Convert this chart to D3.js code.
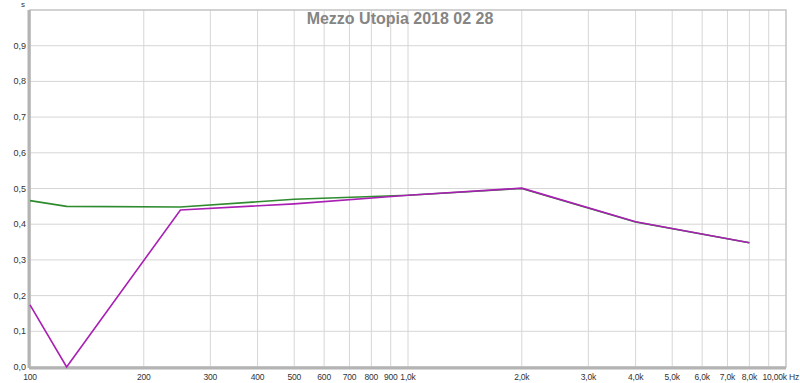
<!DOCTYPE html>
<html>
<head>
<meta charset="utf-8">
<script src="https://cdn.jsdelivr.net/npm/d3@7"></script>
<style>
  body { margin: 0; background: #fff; }
  svg { display: block; font-family: "Liberation Sans", Arial, sans-serif; }
</style>
</head>
<body>
<div id="chart"></div>
<script>
const title = 'Mezzo Utopia 2018 02 28';
const freqs = [100, 125, 250, 500, 1000, 2000, 4000, 8000];
const greenVals = [0.466, 0.450, 0.448, 0.470, 0.481, 0.500, 0.406, 0.348];
const magentaVals = [0.174, 0.0, 0.440, 0.457, 0.481, 0.501, 0.407, 0.348];
const yTicks = [0, 0.1, 0.2, 0.3, 0.4, 0.5, 0.6, 0.7, 0.8, 0.9];
const xGrid = [200, 300, 400, 500, 600, 700, 800, 900, 1000, 2000, 3000, 4000, 5000, 6000, 7000, 8000, 9000];
const xLabels = [
  [100, '100'], [200, '200'], [300, '300'], [400, '400'], [500, '500'], [600, '600'],
  [700, '700'], [800, '800'], [900, '900'], [1000, '1,0k'], [2000, '2,0k'], [3000, '3,0k'],
  [4000, '4,0k'], [5000, '5,0k'], [6000, '6,0k'], [7000, '7,0k'], [8000, '8,0k']
];

const W = 800, H = 383;
const margin = { top: 10, right: 14, bottom: 16, left: 30 };
const width = W - margin.left - margin.right;
const height = H - margin.top - margin.bottom;

const svg = d3.select('#chart').append('svg').attr('width', W).attr('height', H);
const g = svg.append('g').attr('transform', `translate(${margin.left},${margin.top})`);

const x = d3.scaleLog().domain([100, 10000]).range([0, width]);
const y = d3.scaleLinear().domain([0, 1]).range([height, 0]);

// grid
g.selectAll('.vgrid').data(xGrid).enter().append('line')
  .attr('x1', d => x(d)).attr('x2', d => x(d)).attr('y1', 0).attr('y2', height)
  .attr('stroke', '#d6d6d6').attr('stroke-width', 1);
g.selectAll('.hgrid').data(yTicks.slice(1)).enter().append('line')
  .attr('x1', 0).attr('x2', width).attr('y1', d => y(d)).attr('y2', d => y(d))
  .attr('stroke', '#d6d6d6').attr('stroke-width', 1);

// frame
g.append('rect').attr('x', 0).attr('y', 0).attr('width', width).attr('height', height)
  .attr('fill', 'none').attr('stroke', '#c4c4c4').attr('stroke-width', 1.5);
g.append('line').attr('x1', -1).attr('x2', -1).attr('y1', 0).attr('y2', height + 1)
  .attr('stroke', '#b4b4b4').attr('stroke-width', 3);
g.append('line').attr('x1', -1).attr('x2', width).attr('y1', height + 1).attr('y2', height + 1)
  .attr('stroke', '#b4b4b4').attr('stroke-width', 3);

// title
svg.append('text').attr('x', 400).attr('y', 24).attr('text-anchor', 'middle')
  .style('font-size', '16px').style('font-weight', 'bold').style('fill', '#858585')
  .text(title);

// y labels
g.selectAll('.ylab').data(yTicks).enter().append('text')
  .attr('x', -4).attr('y', d => y(d) + 3).attr('text-anchor', 'end')
  .style('font-size', '9px').style('fill', '#333')
  .text(d => d3.format('.1f')(d).replace('.', ','));
svg.append('text').attr('x', 23).attr('y', 7).attr('text-anchor', 'middle')
  .style('font-size', '8px').style('fill', '#333').text('s');

// x labels
g.selectAll('.xlab').data(xLabels).enter().append('text')
  .attr('x', d => x(d[0])).attr('y', height + 13).attr('text-anchor', 'middle')
  .style('font-size', '8.5px').style('letter-spacing', '-0.2px').style('fill', '#333')
  .text(d => d[1]);
svg.append('text').attr('x', 799).attr('y', H - 3).attr('text-anchor', 'end')
  .style('font-size', '8.5px').style('letter-spacing', '-0.2px').style('fill', '#333').text('10,00k Hz');

// lines
const line = d3.line().x(d => x(d[0])).y(d => y(d[1]));
g.append('path').datum(freqs.map((f, i) => [f, greenVals[i]]))
  .attr('d', line).attr('fill', 'none').attr('stroke', '#2e8b2e').attr('stroke-width', 1.6);
g.append('path').datum(freqs.map((f, i) => [f, magentaVals[i]]))
  .attr('d', line).attr('fill', 'none').attr('stroke', '#a91fb3').attr('stroke-width', 1.6);
</script>
</body>
</html>
